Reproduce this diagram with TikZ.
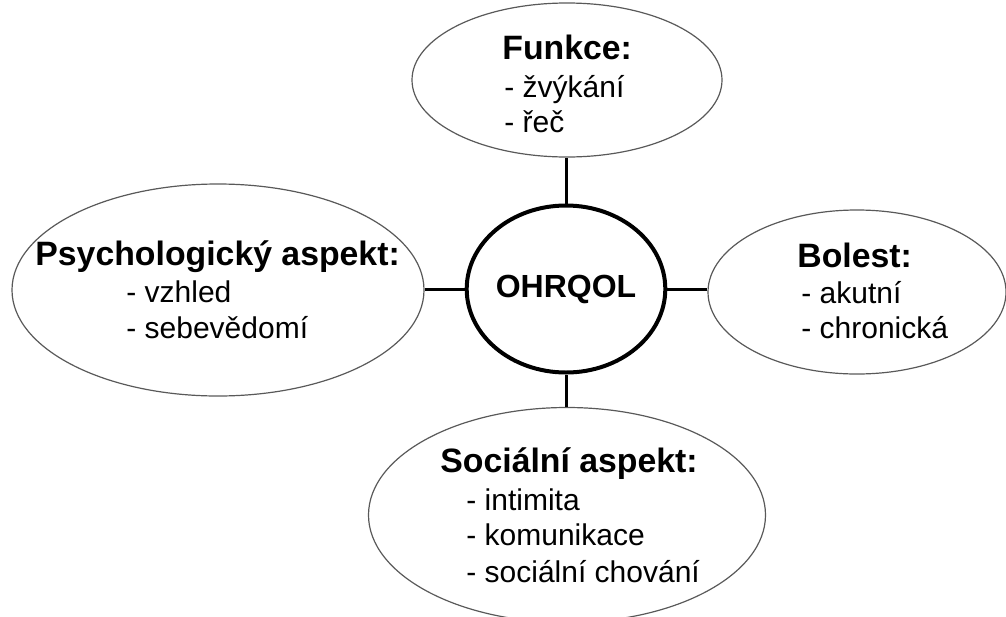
\documentclass[tikz,border=0pt]{standalone}
\usepackage{fontspec}
\setmainfont{Liberation Sans}
\usetikzlibrary{shapes.geometric}

\tikzset{
  aspect/.style={draw=black!65,line width=0.6pt,ellipse,inner sep=0pt},
  head/.style={anchor=base west,inner sep=0pt,font=\bfseries\fontsize{16.9}{20}\selectfont},
  item/.style={anchor=base west,inner sep=0pt,font=\fontsize{15}{18}\selectfont},
  link/.style={line width=1.5pt}
}

\begin{document}
\begin{tikzpicture}[x=0.5pt,y=-0.5pt]
        \clip (0,0) rectangle (1006,616);
        \useasboundingbox (0,0) rectangle (1006,616);
        % center
        \node[draw,ellipse,line width=2pt,minimum width=92.5pt,minimum height=83.5pt,inner sep=0pt,
              font=\bfseries\fontsize{16}{19}\selectfont] (core) at (566,289) {\raisebox{-1pt}{OHRQOL}};
        % aspects
        \node[aspect,minimum width=155pt,minimum height=77pt] (funkce) at (567,80) {};
        \node[aspect,minimum width=206pt,minimum height=106pt] (psych) at (218,290) {};
        \node[aspect,minimum width=149pt,minimum height=82pt] (bolest) at (857,292) {};
        \node[aspect,minimum width=198.5pt,minimum height=107.5pt] (social) at (567,515) {};
        % texts
        \node[head] (funkceH) at (502,59) {Funkce:};
        \node[item] (funkce1) at (504,97) {- žvýkání};
        \node[item] (funkce2) at (504,132) {- řeč};
        \node[head] (psychH) at (35,265) {Psychologický aspekt:};
        \node[item] (psych1) at (126,302) {- vzhled};
        \node[item] (psych2) at (126,338) {- sebevědomí};
        \node[head] (bolestH) at (797,267) {Bolest:};
        \node[item] (bolest1) at (801,303) {- akutní};
        \node[item] (bolest2) at (801,338) {- chronická};
        \node[head] (socialH) at (440,472) {Sociální aspekt:};
        \node[item] (social1) at (466,510) {- intimita};
        \node[item] (social2) at (466,545) {- komunikace};
        \node[item] (social3) at (466,582) {- sociální chování};
        % links
        \draw[link] (core.north) -- (core.north |- funkce.south);
        \draw[link] (core.west) -- (core.west -| psych.east);
        \draw[link] (core.east) -- (core.east -| bolest.west);
        \draw[link] (core.south) -- (core.south |- social.north);
    \end{tikzpicture}
\end{document}
